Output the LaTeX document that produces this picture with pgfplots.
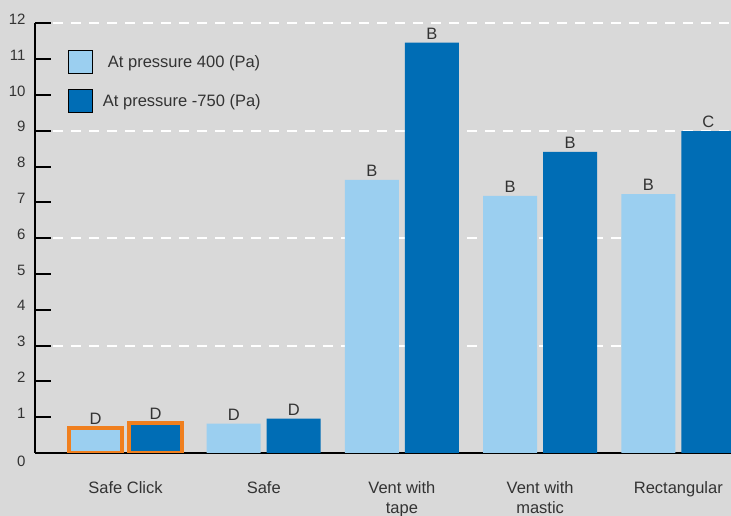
\documentclass[border=0pt]{standalone}
\usepackage{fontspec}
\setmainfont{Liberation Sans}
\usepackage{pgfplots}
\pgfplotsset{compat=1.18}
\definecolor{bg}{HTML}{D9D9D9}
\definecolor{lightb}{HTML}{9BCFF0}
\definecolor{darkb}{HTML}{006DB5}
\definecolor{orng}{HTML}{F07F1E}
\definecolor{txt}{HTML}{333333}
\begin{document}
\begin{tikzpicture}
\fill[bg] (0,0) rectangle (731pt,516pt);
\useasboundingbox (0,0) rectangle (731pt,516pt);
\begin{axis}[
  at={(35pt,63pt)}, anchor=south west,
  scale only axis, width=696pt, height=429.7pt,
  xmin=-0.655, xmax=4.381, ymin=0, ymax=12,
  axis x line*=bottom, axis y line*=left,
  axis line style={-, black, line width=2pt},
  xtick={0,1,2,3,4},
  xticklabels={Safe Click, Safe, {Vent with\\tape}, {Vent with\\mastic}, Rectangular},
  xticklabel style={align=center, font=\fontsize{16.5}{20}\selectfont, text=txt, yshift=-25pt},
  x tick style={draw=none},
  ytick={1,2,3,4,5,6,7,8,9,10,11,12},
  yticklabel style={font=\fontsize{15}{17}\selectfont, text=txt, yshift=4pt, xshift=-6pt},
  y tick style={black, line width=2pt},
  major tick length=16pt, tick align=inside,
  extra y ticks={0},
  extra y tick style={major tick length=0pt, yticklabel style={yshift=-12pt}},
  minor ytick={3,6,9,12}, yminorgrids=true, minor tick length=0pt,
  minor grid style={white, line width=2pt, dash pattern=on 10pt off 8pt},
  /pgf/number format/assume math mode=true,
  point meta=explicit symbolic,
  every node near coord/.append style={font=\fontsize{16.5}{19}\selectfont, text=txt},
  legend style={at={(axis description cs:0.0474,0.938)}, anchor=north west, draw=none, fill=none,
    inner sep=0pt, row sep=15pt, font=\fontsize{16.5}{20}\selectfont, text=txt},
  legend cell align=left,
]
\addplot[ybar, bar width=54pt, bar shift=-30pt, fill=lightb, draw=none, nodes near coords,
  every node near coord/.append style={xshift=-30pt},
  legend image code/.code={\draw[fill=lightb, draw=black, line width=0.8pt] (0pt,-11.5pt) rectangle (24pt,11.5pt);}]
  coordinates {(0,0.70)[D] (1,0.82)[D] (2,7.63)[B] (3,7.18)[B] (4,7.23)[B]};
\addlegendentry{\hspace{13pt}At pressure 400 (Pa)}
\addplot[ybar, bar width=54pt, bar shift=30pt, fill=darkb, draw=none, nodes near coords,
  every node near coord/.append style={xshift=30pt},
  legend image code/.code={\draw[fill=darkb, draw=black, line width=0.8pt] (0pt,-11.5pt) rectangle (24pt,11.5pt);}]
  coordinates {(0,0.85)[D] (1,0.96)[D] (2,11.46)[B] (3,8.41)[B] (4,8.99)[C]};
\addlegendentry{\hspace{8pt}At pressure -750 (Pa)}
\addplot[ybar, forget plot, bar width=53.5pt, bar shift=-30pt, fill=lightb, draw=orng, line width=4pt]
  coordinates {(0,0.70)};
\addplot[ybar, forget plot, bar width=53.5pt, bar shift=30pt, fill=darkb, draw=orng, line width=4pt]
  coordinates {(0,0.85)};
\end{axis}
\end{tikzpicture}
\end{document}
